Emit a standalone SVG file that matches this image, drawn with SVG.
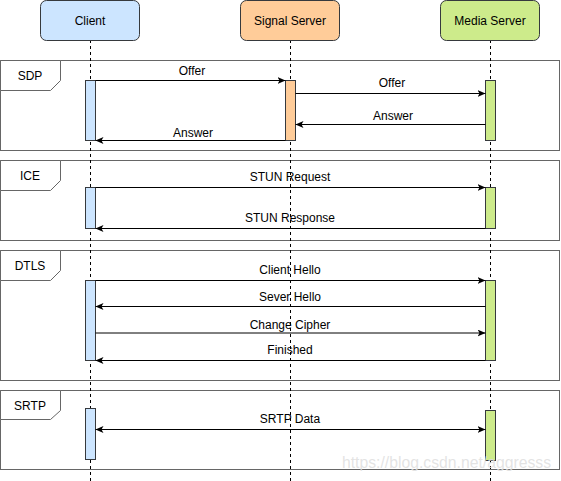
<svg xmlns="http://www.w3.org/2000/svg" width="561" height="481" viewBox="0 0 561 481">
<style>
  text { font-family: "Liberation Sans", Arial, Helvetica, sans-serif; font-size: 12px; fill: #000; }
  .mid { text-anchor: middle; }
  .frame { fill: #fff; stroke: #666; stroke-width: 1; }
  .tab { fill: #fff; stroke: #666; stroke-width: 1; }
  .life { stroke: #000; stroke-width: 1; stroke-dasharray: 3 3; fill: none; }
  .head { stroke: #36393d; stroke-width: 1; }
  .bar { stroke: #36393d; stroke-width: 1; }
  .blue { fill: #cce5ff; }
  .orange { fill: #ffcc99; }
  .green { fill: #cdeb8b; }
  .msg { stroke: #000; stroke-width: 1; fill: none; marker-end: url(#arr); }
  .wm { font-size: 16px; fill: #dedede; fill-opacity: 0.85; }
</style>
<defs>
  <marker id="arr" viewBox="0 0 8 7" refX="8" refY="3.5" markerWidth="8" markerHeight="7" markerUnits="userSpaceOnUse" orient="auto-start-reverse">
    <path d="M0,0 L8,3.5 L0,7 L2,3.5 Z" fill="#000"/>
  </marker>
</defs>

<g id="frames">
  <g id="frame-sdp">
    <rect class="frame" x="0.5" y="60.5" width="559" height="90"/>
    <path class="tab" d="M0.5,60.5 H60.5 V80.5 L50.5,90.5 H0.5 Z"/>
    <text class="mid" x="30" y="79.5">SDP</text>
  </g>
  <g id="frame-ice">
    <rect class="frame" x="0.5" y="160.5" width="559" height="80"/>
    <path class="tab" d="M0.5,160.5 H60.5 V180.5 L50.5,190.5 H0.5 Z"/>
    <text class="mid" x="30" y="179.5">ICE</text>
  </g>
  <g id="frame-dtls">
    <rect class="frame" x="0.5" y="250.5" width="559" height="130"/>
    <path class="tab" d="M0.5,250.5 H60.5 V270.5 L50.5,280.5 H0.5 Z"/>
    <text class="mid" x="30" y="269.5">DTLS</text>
  </g>
  <g id="frame-srtp">
    <rect class="frame" x="0.5" y="390.5" width="559" height="79"/>
    <path class="tab" d="M0.5,390.5 H60.5 V410.5 L50.5,419.5 H0.5 Z"/>
    <text class="mid" x="30" y="409.5">SRTP</text>
  </g>
</g>

<g id="lifelines">
  <line class="life" x1="90.5" y1="40" x2="90.5" y2="481"/>
  <line class="life" x1="290.5" y1="40" x2="290.5" y2="481"/>
  <line class="life" x1="490.5" y1="40" x2="490.5" y2="481"/>
</g>

<g id="client">
  <rect class="head blue" x="40.5" y="0.5" width="99" height="40" rx="6"/>
  <text class="mid" x="90" y="25">Client</text>
</g>
<g id="signal-server">
  <rect class="head orange" x="240.5" y="0.5" width="99" height="40" rx="6"/>
  <text class="mid" x="290" y="25">Signal Server</text>
</g>
<g id="media-server">
  <rect class="head green" x="440.5" y="0.5" width="99" height="40" rx="6"/>
  <text class="mid" x="490" y="25">Media Server</text>
</g>

<g id="labels">
  <text class="mid" x="192" y="74.5">Offer</text>
  <text class="mid" x="392" y="86.5">Offer</text>
  <text class="mid" x="393" y="120">Answer</text>
  <text class="mid" x="193" y="137">Answer</text>
  <text class="mid" x="290" y="181">STUN Request</text>
  <text class="mid" x="290" y="222">STUN Response</text>
  <text class="mid" x="290" y="274">Client Hello</text>
  <text class="mid" x="290" y="300.5">Sever Hello</text>
  <text class="mid" x="290" y="328.5">Change Cipher</text>
  <text class="mid" x="290" y="353.5">Finished</text>
  <text class="mid" x="290" y="422.5">SRTP Data</text>
</g>

<g id="activations">
  <rect class="bar blue" x="85.5" y="80.5" width="10" height="60"/>
  <rect class="bar orange" x="285.5" y="80.5" width="10" height="60"/>
  <rect class="bar green" x="485.5" y="80.5" width="10" height="60"/>
  <rect class="bar blue" x="85.5" y="187.5" width="10" height="41"/>
  <rect class="bar green" x="485.5" y="187.5" width="10" height="41"/>
  <rect class="bar blue" x="85.5" y="280.5" width="10" height="80"/>
  <rect class="bar green" x="485.5" y="280.5" width="10" height="80"/>
  <rect class="bar blue" x="85.5" y="408.5" width="10" height="51"/>
  <rect class="bar green" x="485.5" y="410.5" width="10" height="50"/>
</g>

<g id="connectors">
  <line class="msg" x1="95.5" y1="80.5" x2="285.5" y2="80.5"/>
  <line class="msg" x1="295.5" y1="93.5" x2="485.5" y2="93.5"/>
  <line class="msg" x1="485.5" y1="124.5" x2="295.5" y2="124.5"/>
  <line class="msg" x1="285.5" y1="140.5" x2="95.5" y2="140.5"/>
  <line class="msg" x1="95.5" y1="187.5" x2="485.5" y2="187.5"/>
  <line class="msg" x1="485.5" y1="228.5" x2="95.5" y2="228.5"/>
  <line class="msg" x1="95.5" y1="280.5" x2="485.5" y2="280.5"/>
  <line class="msg" x1="485.5" y1="306.5" x2="95.5" y2="306.5"/>
  <line class="msg" x1="95.5" y1="333" x2="485.5" y2="333"/>
  <line class="msg" x1="485.5" y1="360.5" x2="95.5" y2="360.5"/>
  <line class="msg" x1="95.5" y1="429.5" x2="485.5" y2="429.5" marker-start="url(#arr)"/>
</g>

<text class="wm" x="342" y="468" textLength="209" lengthAdjust="spacingAndGlyphs">https://blog.csdn.net/aggresss</text>
</svg>
